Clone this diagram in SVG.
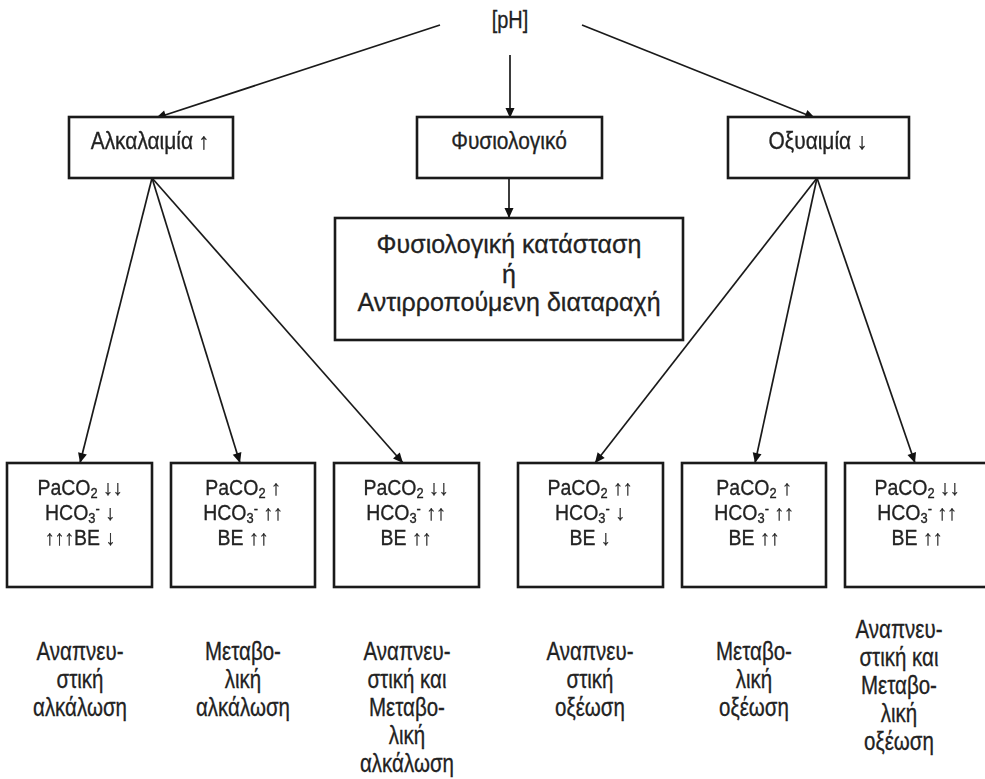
<svg xmlns="http://www.w3.org/2000/svg" width="985" height="779" viewBox="0 0 985 779">
  <defs>
    <marker id="arr" viewBox="0 0 10 10" refX="10" refY="5" markerWidth="11" markerHeight="10" markerUnits="userSpaceOnUse" orient="auto">
      <path d="M0,0.5 L10,5 L0,9.5 z" fill="#111"/>
    </marker>
    <!-- pass-through filter: text is drawn into a plain grey-scale buffer -->
    <filter id="flat" x="-5%" y="-20%" width="110%" height="140%">
      <feOffset dx="0" dy="0"/>
    </filter>
    <style>
      .box { fill: #fff; stroke: #1a1a1a; stroke-width: 2.6; }
      .edge { stroke: #1a1a1a; stroke-width: 1.7; fill: none; marker-end: url(#arr); }
      text { font-family: "Liberation Sans", Arial, sans-serif; fill: #222; stroke: #222; stroke-width: 0.3; text-anchor: middle; }
      .txt { filter: url(#flat); }
      /* narrow lettering: glyphs are squeezed horizontally by the scale() on each text */
      .t1 { font-size: 23.5px; }
      .t2 { font-size: 23px; }
      .t3 { font-size: 25px; }
      .t4 { font-size: 21.2px; }
      .t5 { font-size: 25px; }
      .sub { font-size: 14px; }
    </style>
  </defs>

  <!-- connectors -->
  <g id="edges">
    <line class="edge" x1="440" y1="25" x2="156" y2="118"/>
    <line class="edge" x1="510" y1="55" x2="510" y2="118"/>
    <line class="edge" x1="582" y1="25" x2="815" y2="118"/>
    <line class="edge" x1="509" y1="178" x2="509" y2="218"/>
    <line class="edge" x1="152" y1="178" x2="80" y2="463"/>
    <line class="edge" x1="152" y1="178" x2="240" y2="463"/>
    <line class="edge" x1="152" y1="178" x2="403" y2="463"/>
    <line class="edge" x1="817" y1="178" x2="595" y2="463"/>
    <line class="edge" x1="817" y1="178" x2="755" y2="463"/>
    <line class="edge" x1="817" y1="178" x2="915" y2="463"/>
  </g>

  <g id="ph">
    <text class="t1" transform="scale(0.85,1)" x="600" y="28">[pH]</text>
  </g>

  <g id="alkalaimia">
    <rect class="box" x="69" y="117" width="164" height="61"/>
    <g class="txt"><text class="t2" transform="scale(0.91,1)" x="164.84" y="149">Αλκαλαιμία ↑</text></g>
  </g>
  <g id="fysiologiko">
    <rect class="box" x="417" y="117" width="185" height="61"/>
    <text class="t2" transform="scale(0.91,1)" x="559.34" y="149">Φυσιολογικό</text>
  </g>
  <g id="oxyaimia">
    <rect class="box" x="728" y="117" width="181" height="61"/>
    <g class="txt"><text class="t2" transform="scale(0.91,1)" x="898.9" y="149">Οξυαιμία ↓</text></g>
  </g>

  <g id="fysiologiki">
    <rect class="box" x="335" y="218" width="348" height="122"/>
    <text class="t3" x="509" y="253">Φυσιολογική κατάσταση</text>
    <text class="t3" x="509" y="283">ή</text>
    <text class="t3" x="509" y="311">Αντιρροπούμενη διαταραχή</text>
  </g>

  <g id="b1">
    <rect class="box" x="7" y="463" width="145" height="124"/>
    <g class="txt" transform="scale(0.92,1)">
      <text class="t4" x="86.96" y="495">PaCO<tspan class="sub" dy="3">2</tspan><tspan dy="-3"> ↓↓</tspan></text>
      <text class="t4" x="86.96" y="520">HCO<tspan class="sub" dy="3">3</tspan><tspan class="sub" dy="-9">-</tspan><tspan dy="6"> ↓</tspan></text>
      <text class="t4" x="86.96" y="545">↑↑↑BE ↓</text>
    </g>
  </g>
  <g id="b2">
    <rect class="box" x="171" y="463" width="144" height="124"/>
    <g class="txt" transform="scale(0.92,1)">
      <text class="t4" x="264.13" y="495">PaCO<tspan class="sub" dy="3">2</tspan><tspan dy="-3"> ↑</tspan></text>
      <text class="t4" x="264.13" y="520">HCO<tspan class="sub" dy="3">3</tspan><tspan class="sub" dy="-9">-</tspan><tspan dy="6"> ↑↑</tspan></text>
      <text class="t4" x="264.13" y="545">BE ↑↑</text>
    </g>
  </g>
  <g id="b3">
    <rect class="box" x="334" y="463" width="145" height="124"/>
    <g class="txt" transform="scale(0.92,1)">
      <text class="t4" x="441.3" y="495">PaCO<tspan class="sub" dy="3">2</tspan><tspan dy="-3"> ↓↓</tspan></text>
      <text class="t4" x="441.3" y="520">HCO<tspan class="sub" dy="3">3</tspan><tspan class="sub" dy="-9">-</tspan><tspan dy="6"> ↑↑</tspan></text>
      <text class="t4" x="441.3" y="545">BE ↑↑</text>
    </g>
  </g>
  <g id="b4">
    <rect class="box" x="518" y="463" width="145" height="124"/>
    <g class="txt" transform="scale(0.92,1)">
      <text class="t4" x="641.3" y="495">PaCO<tspan class="sub" dy="3">2</tspan><tspan dy="-3"> ↑↑</tspan></text>
      <text class="t4" x="641.3" y="520">HCO<tspan class="sub" dy="3">3</tspan><tspan class="sub" dy="-9">-</tspan><tspan dy="6"> ↓</tspan></text>
      <text class="t4" x="641.3" y="545">BE ↓</text>
    </g>
  </g>
  <g id="b5">
    <rect class="box" x="682" y="463" width="144" height="124"/>
    <g class="txt" transform="scale(0.92,1)">
      <text class="t4" x="819.57" y="495">PaCO<tspan class="sub" dy="3">2</tspan><tspan dy="-3"> ↑</tspan></text>
      <text class="t4" x="819.57" y="520">HCO<tspan class="sub" dy="3">3</tspan><tspan class="sub" dy="-9">-</tspan><tspan dy="6"> ↑↑</tspan></text>
      <text class="t4" x="819.57" y="545">BE ↑↑</text>
    </g>
  </g>
  <g id="b6">
    <rect class="box" x="845" y="463" width="150" height="124"/>
    <g class="txt" transform="scale(0.92,1)">
      <text class="t4" x="996.74" y="495">PaCO<tspan class="sub" dy="3">2</tspan><tspan dy="-3"> ↓↓</tspan></text>
      <text class="t4" x="996.74" y="520">HCO<tspan class="sub" dy="3">3</tspan><tspan class="sub" dy="-9">-</tspan><tspan dy="6"> ↑↑</tspan></text>
      <text class="t4" x="996.74" y="545">BE ↑↑</text>
    </g>
  </g>

  <g id="labels" transform="scale(0.82,1)">
    <text class="t5" x="97.56" y="660">Αναπνευ-</text>
    <text class="t5" x="97.56" y="688">στική</text>
    <text class="t5" x="97.56" y="716">αλκάλωση</text>

    <text class="t5" x="296.34" y="660">Μεταβο-</text>
    <text class="t5" x="296.34" y="688">λική</text>
    <text class="t5" x="296.34" y="716">αλκάλωση</text>

    <text class="t5" x="496.34" y="660">Αναπνευ-</text>
    <text class="t5" x="496.34" y="688">στική και</text>
    <text class="t5" x="496.34" y="716">Μεταβο-</text>
    <text class="t5" x="496.34" y="744">λική</text>
    <text class="t5" x="496.34" y="772">αλκάλωση</text>

    <text class="t5" x="719.51" y="660">Αναπνευ-</text>
    <text class="t5" x="719.51" y="688">στική</text>
    <text class="t5" x="719.51" y="716">οξέωση</text>

    <text class="t5" x="919.51" y="660">Μεταβο-</text>
    <text class="t5" x="919.51" y="688">λική</text>
    <text class="t5" x="919.51" y="716">οξέωση</text>

    <text class="t5" x="1096.34" y="638">Αναπνευ-</text>
    <text class="t5" x="1096.34" y="666">στική και</text>
    <text class="t5" x="1096.34" y="694">Μεταβο-</text>
    <text class="t5" x="1096.34" y="722">λική</text>
    <text class="t5" x="1096.34" y="750">οξέωση</text>
  </g>
</svg>
